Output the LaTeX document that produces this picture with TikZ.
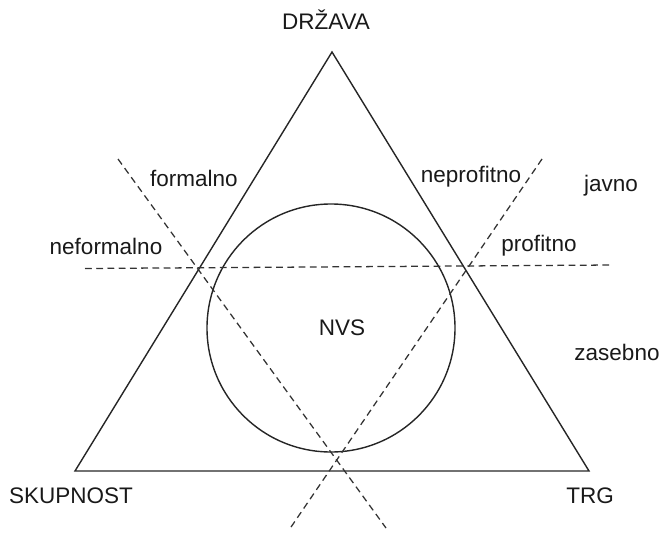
\documentclass[tikz,border=0pt]{standalone}
\usepackage{fontspec}
\setmainfont{Liberation Sans}
\usetikzlibrary{positioning,calc}

\begin{document}
\begin{tikzpicture}[
        x=0.025cm, y=-0.025cm,
        font=\fontsize{16}{19}\selectfont,
        % Line styles
        edge/.style={draw=black!85, line width=1pt},
        cut/.style={draw=black!80, line width=0.9pt, dash pattern=on 4.8pt off 3.2pt},
        word/.style={inner sep=0pt, text=black!90}
    ]
    \useasboundingbox (0,0) rectangle (663,532);

    % Triangle
    \coordinate (top) at (332,52);
    \coordinate (left) at (75,471);
    \coordinate (right) at (589,471);
    \draw[edge] (top) -- (left) -- (right) -- cycle;

    % Circle
    \draw[edge] (331,328) circle[radius=124];
    \node[word] (nvs) at (342,328) {NVS};

    % Dashed cuts
    \coordinate (h1) at (85,268.5);
    \coordinate (h2) at (613,265);
    \coordinate (a1) at (118,159);
    \coordinate (a2) at (386,528);
    \coordinate (b1) at (542,159);
    \coordinate (b2) at (289,530);
    \draw[cut] (h1) -- (h2);
    \draw[cut] (a1) -- (a2);
    \draw[cut] (b1) -- (b2);

    % Corner labels
    \node[word] (drzava) at (326,20) {DRŽAVA};
    \node[word] (skupnost) at (71,496) {SKUPNOST};
    \node[word] (trg) at (590,496) {TRG};

    % Side labels
    \node[word] (formalno) at (194,178) {formalno};
    \node[word] (neformalno) at (106,246) {neformalno};
    \node[word] (neprofitno) at (471,177) {neprofitno};
    \node[word] (profitno) at (539,246) {profitno};
    \node[word] (javno) at (611,186) {javno};
    \node[word] (zasebno) at (617,352) {zasebno};

\end{tikzpicture}
\end{document}
